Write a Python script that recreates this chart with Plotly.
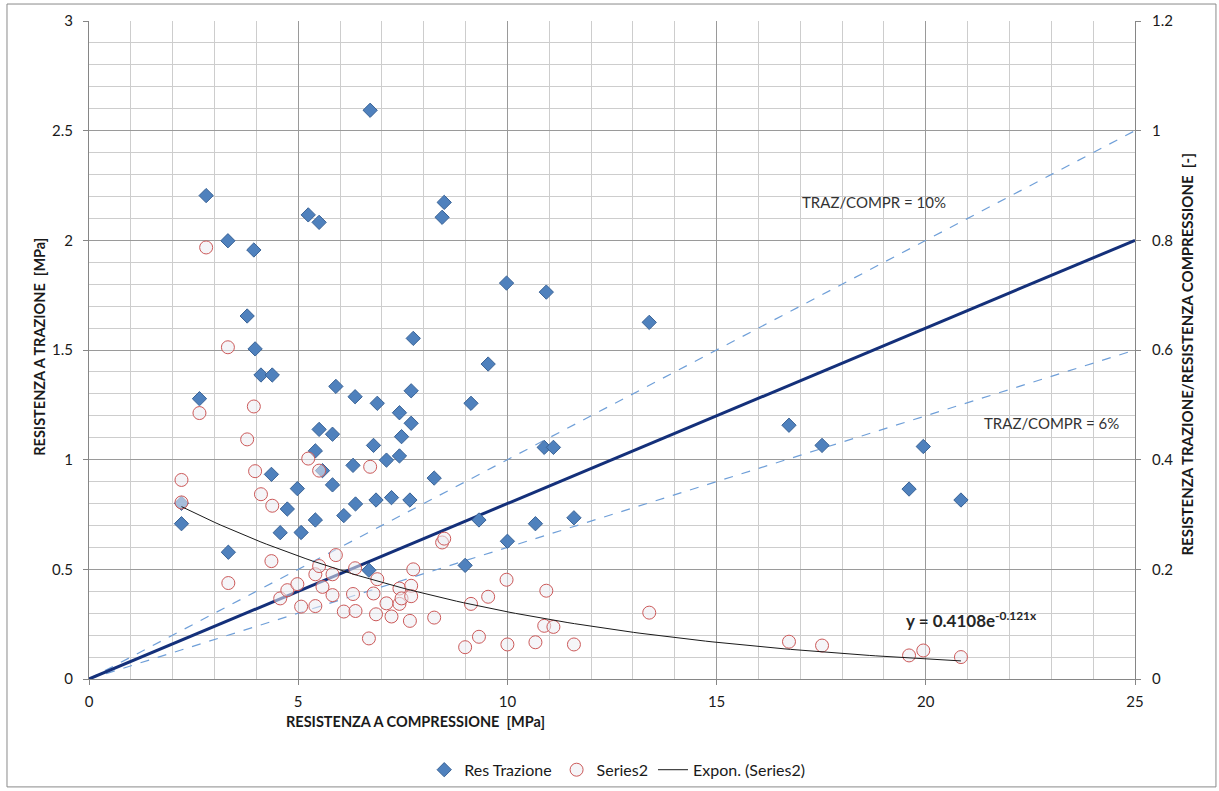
import numpy as np
import plotly.graph_objects as go

# --- data ---
compr = [2.21, 2.21, 2.64, 2.80, 3.32, 3.33, 3.78, 3.94, 3.97, 4.11, 4.38, 4.36, 4.57, 4.74,
         4.98, 5.07, 5.24, 5.41, 5.41, 5.50, 5.50, 5.58, 5.82, 5.82, 5.90, 6.09, 6.31, 6.36,
         6.37, 6.69, 6.72, 6.80, 6.86, 6.89, 7.11, 7.23, 7.42, 7.42, 7.47, 7.67, 7.70, 7.70,
         7.75, 8.25, 8.44, 8.49, 8.99, 9.13, 9.32, 9.54, 9.98, 10.00, 10.67, 10.88, 10.93,
         11.10, 11.59, 13.39, 16.73, 17.52, 19.60, 19.94, 20.84]
trazione = [0.708, 0.801, 1.278, 2.204, 1.998, 0.578, 1.655, 1.956, 1.505, 1.386, 1.386, 0.933,
            0.667, 0.775, 0.868, 0.668, 2.116, 1.040, 0.725, 2.082, 1.138, 0.950, 1.116, 0.885,
            1.334, 0.745, 0.974, 1.287, 0.798, 0.496, 2.593, 1.065, 0.816, 1.257, 0.998, 0.827,
            1.214, 1.017, 1.105, 0.816, 1.314, 1.166, 1.553, 0.916, 2.105, 2.173, 0.518, 1.257,
            0.725, 1.436, 1.805, 0.628, 0.708, 1.056, 1.764, 1.056, 0.735, 1.626, 1.157, 1.065,
            0.866, 1.060, 0.816]
series2 = [0.322, 0.363, 0.485, 0.787, 0.605, 0.175, 0.437, 0.497, 0.379, 0.337, 0.316, 0.215,
           0.147, 0.162, 0.173, 0.132, 0.402, 0.191, 0.133, 0.380, 0.206, 0.168, 0.191, 0.153,
           0.226, 0.123, 0.155, 0.202, 0.124, 0.074, 0.387, 0.156, 0.118, 0.182, 0.138, 0.114,
           0.165, 0.137, 0.147, 0.106, 0.170, 0.151, 0.200, 0.112, 0.249, 0.256, 0.058, 0.137,
           0.077, 0.150, 0.181, 0.063, 0.067, 0.097, 0.161, 0.095, 0.063, 0.121, 0.068, 0.061,
           0.043, 0.052, 0.040]

ref_x = [0, 25]
ref10_y = [0, 2.5]
ref8_y = [0, 2.0]
ref6_y = [0, 1.5]

exp_a = 0.4108
exp_b = -0.121
exp_x = np.linspace(min(compr), max(compr), 120)
exp_y = exp_a * np.exp(exp_b * exp_x)

x_ticks = [0, 5, 10, 15, 20, 25]
y_ticks = [0, 0.5, 1, 1.5, 2, 2.5, 3]
y_ticklabels = ["0", "0.5", "1", "1.5", "2", "2.5", "3"]
y2_ticks = [0, 0.2, 0.4, 0.6, 0.8, 1.0, 1.2]
y2_ticklabels = ["0", "0.2", "0.4", "0.6", "0.8", "1", "1.2"]

FONT = "Lato"
fig = go.Figure()

fig.add_trace(go.Scatter(x=ref_x, y=ref10_y, mode="lines", showlegend=False,
                         line=dict(color="#6f9fd8", width=1.2, dash="dash"), hoverinfo="skip"))
fig.add_trace(go.Scatter(x=ref_x, y=ref6_y, mode="lines", showlegend=False,
                         line=dict(color="#6f9fd8", width=1.2, dash="dash"), hoverinfo="skip"))
fig.add_trace(go.Scatter(x=ref_x, y=ref8_y, mode="lines", showlegend=False,
                         line=dict(color="#14307a", width=3), hoverinfo="skip"))

fig.add_trace(go.Scatter(x=compr, y=trazione, mode="markers", name="Res Trazione",
                         marker=dict(symbol="diamond", size=11, color="#4f81bd",
                                     line=dict(color="#3a6396", width=1))))
fig.add_trace(go.Scatter(x=compr, y=series2, mode="markers", name="Series2", yaxis="y2",
                         marker=dict(symbol="circle", size=13, color="rgba(236,236,242,0.55)",
                                     line=dict(color="#cc5a5a", width=1))))
fig.add_trace(go.Scatter(x=exp_x, y=exp_y, mode="lines", name="Expon. (Series2)", yaxis="y2",
                         line=dict(color="#1a1a1a", width=1)))

grid_minor = "#cdcdcd"
grid_major = "#9a9a9a"
axis_col = "#868686"

fig.update_layout(
    width=1219, height=791,
    margin=dict(l=89, r=84, t=21, b=112, autoexpand=False),
    paper_bgcolor="white", plot_bgcolor="white",
    font=dict(family=FONT, size=13, color="#1a1a1a"),
    xaxis=dict(range=[0, 25], tickvals=x_ticks, showgrid=True, gridcolor=grid_major, gridwidth=1,
               minor=dict(dtick=1, showgrid=True, gridcolor=grid_minor, gridwidth=1),
               showline=True, linecolor=axis_col, ticks="outside", ticklen=5, tickcolor=axis_col,
               zeroline=False, tickfont=dict(size=15, family=FONT), ticklabelstandoff=4),
    yaxis=dict(range=[0, 3], tickvals=y_ticks, ticktext=y_ticklabels, showgrid=True,
               gridcolor=grid_major, gridwidth=1,
               minor=dict(dtick=0.1, tick0=0, showgrid=True, gridcolor=grid_minor, gridwidth=1),
               showline=True, linecolor=axis_col, ticks="outside", ticklen=5, tickcolor=axis_col,
               zeroline=False, tickfont=dict(size=15, family=FONT), ticklabelstandoff=7),
    yaxis2=dict(range=[0, 1.2], tickvals=y2_ticks, ticktext=y2_ticklabels, overlaying="y",
                side="right", showgrid=False, showline=True, linecolor=axis_col,
                ticks="outside", ticklen=5, tickcolor=axis_col, zeroline=False,
                tickfont=dict(size=15, family=FONT), ticklabelstandoff=8),
    legend=dict(orientation="h", x=0.505, xanchor="center", y=-0.138, yanchor="middle",
                font=dict(size=16, family=FONT), itemwidth=30, bgcolor="rgba(0,0,0,0)"),
    showlegend=True,
)

annots = [
    dict(text="<b>RESISTENZA A COMPRESSIONE  [MPa]</b>", xref="paper", yref="paper",
         x=0.3117, y=-0.0645, xanchor="center", yanchor="middle", showarrow=False,
         font=dict(size=14.5, family=FONT)),
    dict(text="<b>RESISTENZA A TRAZIONE  [MPa]</b>", xref="paper", yref="paper",
         x=-0.0468, y=0.505, xanchor="center", yanchor="middle", textangle=-90,
         showarrow=False, font=dict(size=14.5, family=FONT)),
    dict(text="<b>RESISTENZA TRAZIONE/RESISTENZA COMPRESSIONE  [-]</b>", xref="paper",
         yref="paper", x=1.0497, y=0.493, xanchor="center", yanchor="middle", textangle=-90,
         showarrow=False, font=dict(size=15, family=FONT)),
    dict(text="TRAZ/COMPR = 10%", xref="x", yref="y", x=18.76, y=2.175, xanchor="center",
         yanchor="middle", showarrow=False, font=dict(size=15, family=FONT, color="#333")),
    dict(text="TRAZ/COMPR = 6%", xref="x", yref="y", x=23.0, y=1.167, xanchor="center",
         yanchor="middle", showarrow=False, font=dict(size=15, family=FONT, color="#333")),
    dict(text="<b>y = 0.4108e<sup>-0.121x</sup></b>", xref="x", yref="y", x=21.1, y=0.27,
         xanchor="center", yanchor="middle", showarrow=False,
         font=dict(size=17, family=FONT, color="#262626")),
]
fig.update_layout(annotations=annots)

fig.add_shape(type="rect", xref="paper", yref="paper", x0=-0.0784, x1=1.0774,
              y0=-0.164, y1=1.0258, line=dict(color="#8a8a8a", width=1), layer="below")

fig.write_html("out.html", config={"displayModeBar": False},
               post_script="document.body.style.margin='0';document.body.style.overflow='hidden';")
